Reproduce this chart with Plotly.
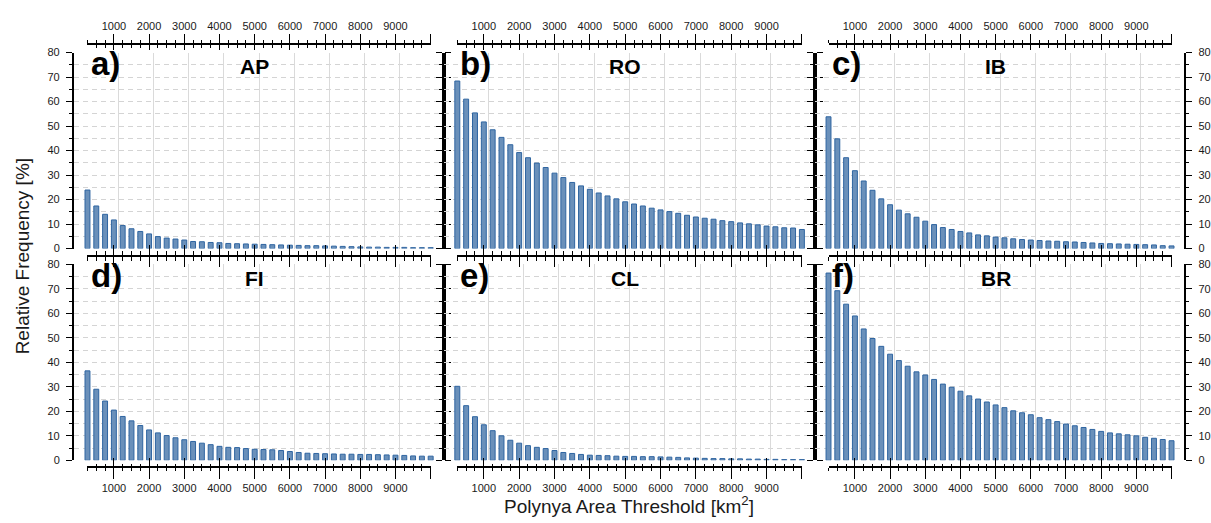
import plotly.graph_objects as go

# ---------------- data ----------------
thresholds = list(range(250, 10001, 250))          # polynya area thresholds [km2]
panel_names = ["AP", "RO", "IB", "FI", "CL", "BR"]
panel_letters = ["a)", "b)", "c)", "d)", "e)", "f)"]

ap = [23.9, 17.4, 14.0, 11.7, 9.4, 8.1, 7.0, 6.0, 4.9, 4.3,
      3.9, 3.5, 2.9, 2.8, 2.5, 2.4, 2.1, 2.0, 1.9, 1.8,
      1.7, 1.6, 1.5, 1.4, 1.3, 1.2, 1.2, 1.1, 1.0, 0.9,
      0.8, 0.7, 0.6, 0.6, 0.5, 0.5, 0.5, 0.4, 0.4, 0.4]
ro = [68.4, 61.0, 55.4, 51.7, 48.5, 45.4, 42.4, 39.2, 37.1, 34.9,
      33.1, 30.8, 29.0, 27.0, 25.6, 24.2, 22.7, 21.5, 20.3, 19.1,
      18.2, 17.4, 16.5, 15.8, 15.1, 14.4, 13.6, 12.9, 12.4, 12.0,
      11.4, 11.0, 10.5, 10.1, 9.7, 9.2, 8.9, 8.5, 8.4, 7.8]
ib = [53.8, 44.8, 37.1, 31.8, 27.6, 23.8, 20.3, 17.9, 15.7, 14.2,
      12.8, 11.2, 9.8, 8.6, 7.8, 7.0, 6.4, 5.6, 5.2, 4.7,
      4.4, 4.0, 3.7, 3.5, 3.3, 3.1, 3.0, 2.8, 2.7, 2.5,
      2.3, 2.1, 2.0, 1.9, 1.8, 1.7, 1.6, 1.5, 1.2, 1.1]
fi = [36.5, 29.0, 24.2, 20.5, 17.9, 16.1, 14.2, 12.4, 11.2, 10.1,
      9.2, 8.4, 7.7, 7.0, 6.4, 5.7, 5.3, 5.2, 4.8, 4.5,
      4.4, 4.3, 4.0, 3.6, 3.2, 2.9, 2.8, 2.7, 2.6, 2.5,
      2.5, 2.4, 2.4, 2.3, 2.2, 2.1, 2.0, 1.8, 1.7, 1.7]
cl = [30.2, 22.3, 17.8, 14.5, 12.1, 10.0, 8.2, 7.0, 6.0, 5.3,
      4.8, 4.0, 3.2, 2.8, 2.4, 2.1, 2.0, 1.9, 1.7, 1.6,
      1.6, 1.5, 1.5, 1.4, 1.3, 1.2, 1.0, 0.9, 0.8, 0.7,
      0.7, 0.6, 0.6, 0.5, 0.5, 0.4, 0.4, 0.3, 0.3, 0.3]
br = [76.4, 69.2, 63.7, 58.9, 53.6, 49.7, 46.5, 43.3, 40.7, 38.4,
      36.1, 34.8, 33.0, 31.1, 29.8, 28.2, 26.3, 25.0, 23.8, 22.6,
      21.5, 20.2, 19.4, 18.6, 17.4, 16.6, 15.8, 14.8, 14.1, 13.4,
      12.6, 11.8, 11.2, 10.8, 10.4, 10.0, 9.4, 9.0, 8.5, 8.0]
series = [ap, ro, ib, fi, cl, br]

y_ticks = [0, 10, 20, 30, 40, 50, 60, 70, 80]
y_minor = [5, 15, 25, 35, 45, 55, 65, 75]
x_labelled = [1000, 2000, 3000, 4000, 5000, 6000, 7000, 8000, 9000]
x_major = x_labelled + [10000]
x_minor = thresholds
x_grid = [1125, 2125, 3125, 4125, 5125, 6125, 7125, 8125, 9125]

# ---------------- layout geometry ----------------
W, H = 1211, 523
COL_PX = [74, 445, 817.5, 1188.3]
ROW_PX = [(47.7, 248.3), (264.3, 465.0)]
XR = [-140, 10365]
FONT = "Liberation Sans, Arial, Helvetica, sans-serif"
BLACK = "black"
GRID_DASH = "5px,4px"


def fx(px):
    return px / W


def fy(py):
    return 1 - py / H


fig = go.Figure()
layout = dict(
    width=W, height=H, autosize=False,
    margin=dict(l=0, r=0, t=0, b=0),
    paper_bgcolor="white",
    plot_bgcolor="rgba(0,0,0,0)",
    showlegend=False,
    font=dict(family=FONT, size=11, color="#1a1a1a"),
)
annotations = []

for i, vals in enumerate(series):
    r, c = divmod(i, 3)
    n = i + 1
    sfx = "" if n == 1 else str(n)
    fig.add_trace(go.Bar(
        x=thresholds, y=vals, width=140,
        marker=dict(color="#6a90ba", line=dict(color="#2f65a1", width=1)),
        xaxis=f"x{sfx}", yaxis=f"y{sfx}", hoverinfo="skip",
    ))
    layout[f"xaxis{sfx}"] = dict(
        domain=[fx(COL_PX[c]), fx(COL_PX[c + 1])], range=XR, anchor=f"y{sfx}",
        tickmode="array", tickvals=x_grid, showticklabels=False, ticks="",
        showgrid=True, gridcolor="#dadada", gridwidth=1.3,
        showline=False, zeroline=False, fixedrange=True,
    )
    ya = dict(
        domain=[fy(ROW_PX[r][1]), fy(ROW_PX[r][0])], range=[0, 80], anchor=f"x{sfx}",
        tickmode="array", tickvals=y_ticks,
        showgrid=True, griddash=GRID_DASH, gridcolor="#d4d4d4", gridwidth=1,
        zeroline=False, showline=True, linecolor=BLACK, linewidth=1.6,
        ticks="outside", ticklen=6, tickwidth=1.3, tickcolor=BLACK,
        mirror="ticks", fixedrange=True, ticklabelstandoff=4,
        tickfont=dict(family=FONT, size=11, color="#1a1a1a"),
        minor=dict(tickmode="array", tickvals=y_minor, ticks="outside", ticklen=3,
                   tickwidth=1.3, tickcolor=BLACK, showgrid=True, griddash=GRID_DASH,
                   gridcolor="#d4d4d4", gridwidth=1),
    )
    if c == 1:
        ya["showticklabels"] = False
    if c == 2:
        ya["side"] = "right"
    layout[f"yaxis{sfx}"] = ya

    annotations.append(dict(
        text=f"<b>{panel_letters[i]}</b>", xref=f"x{sfx} domain", yref=f"y{sfx} domain",
        x=0.04, y=0.944, xanchor="left", yanchor="middle", showarrow=False,
        font=dict(family=FONT, size=33, color="black"),
    ))
    annotations.append(dict(
        text=f"<b>{panel_names[i]}</b>", xref=f"x{sfx}", yref=f"y{sfx} domain",
        x=5000, y=0.928, xanchor="center", yanchor="middle", showarrow=False,
        font=dict(family=FONT, size=21, color="black"),
    ))

# hidden y axis carrying the free-standing threshold tick axes
layout["yaxis7"] = dict(domain=[0, 1], range=[0, 1], visible=False, fixedrange=True)

# (y pixel, side, major out, major in, minor out, minor in, labels)
tick_lines = [
    (39.0, "top", 9, 5, 3, 3, True),
    (255.7, "bottom", 10, 10, 4, 4, False),
    (472.3, "bottom", 11, 9, 3, 3, True),
]
ax_id = 8


def add_tick_axis(dom, ypx, side, mode, L, Lm, vals, labels, minor_vals):
    global ax_id
    ax = dict(
        domain=dom, range=[thresholds[0], thresholds[-1]],
        anchor="free", position=fy(ypx), side=side,
        showline=True, linecolor=BLACK, linewidth=1.6,
        ticks=mode, ticklen=L, tickwidth=1.3, tickcolor=BLACK,
        tickmode="array", tickvals=vals, showticklabels=labels,
        tickfont=dict(family=FONT, size=11, color="#1a1a1a"),
        showgrid=False, zeroline=False, fixedrange=True,
    )
    if minor_vals:
        ax["minor"] = dict(tickmode="array", tickvals=minor_vals, ticks=mode, ticklen=Lm,
                           tickwidth=1.3, tickcolor=BLACK, showgrid=False)
    layout[f"xaxis{ax_id}"] = ax
    fig.add_trace(go.Scatter(
        x=thresholds, y=[None] * len(thresholds), mode="markers",
        xaxis=f"x{ax_id}", yaxis="y7", hoverinfo="skip", showlegend=False,
    ))
    ax_id += 1


for c in range(3):
    wpx = COL_PX[c + 1] - COL_PX[c]
    left = COL_PX[c] + (thresholds[0] - XR[0]) / (XR[1] - XR[0]) * wpx
    right = COL_PX[c] + (thresholds[-1] - XR[0]) / (XR[1] - XR[0]) * wpx
    dom = [fx(left), fx(right)]
    for ypx, side, mo, mi, no, ni, labels in tick_lines:
        if labels:
            # labelled ticks 1000..9000, plus an unlabelled major tick at 10000
            add_tick_axis(dom, ypx, side, "outside", mo, no, x_labelled, True, x_minor)
            add_tick_axis(dom, ypx, side, "outside", mo, no, x_major[-1:], False, None)
        else:
            add_tick_axis(dom, ypx, side, "outside", mo, no, x_major, False, x_minor)
        add_tick_axis(dom, ypx, side, "inside", mi, ni, x_major, False, x_minor)

annotations.append(dict(
    text="Relative Frequency [%]", xref="paper", yref="paper",
    x=fx(22), y=fy(256.3), xanchor="center", yanchor="middle", textangle=-90,
    showarrow=False, font=dict(family=FONT, size=19, color="#1a1a1a"),
))
annotations.append(dict(
    text="Polynya Area Threshold [km<sup>2</sup>]", xref="paper", yref="paper",
    x=fx(631.25), y=fy(511), xanchor="center", yanchor="middle",
    showarrow=False, font=dict(family=FONT, size=19, color="#1a1a1a"),
))

layout["annotations"] = annotations
fig.update_layout(**layout)
# remove the browser's default 8px body margin so the figure fills the window exactly
fig.write_html(
    "out.html",
    config={"responsive": False, "displayModeBar": False},
    post_script="document.body.style.margin='0px';document.body.style.overflow='hidden';",
)
